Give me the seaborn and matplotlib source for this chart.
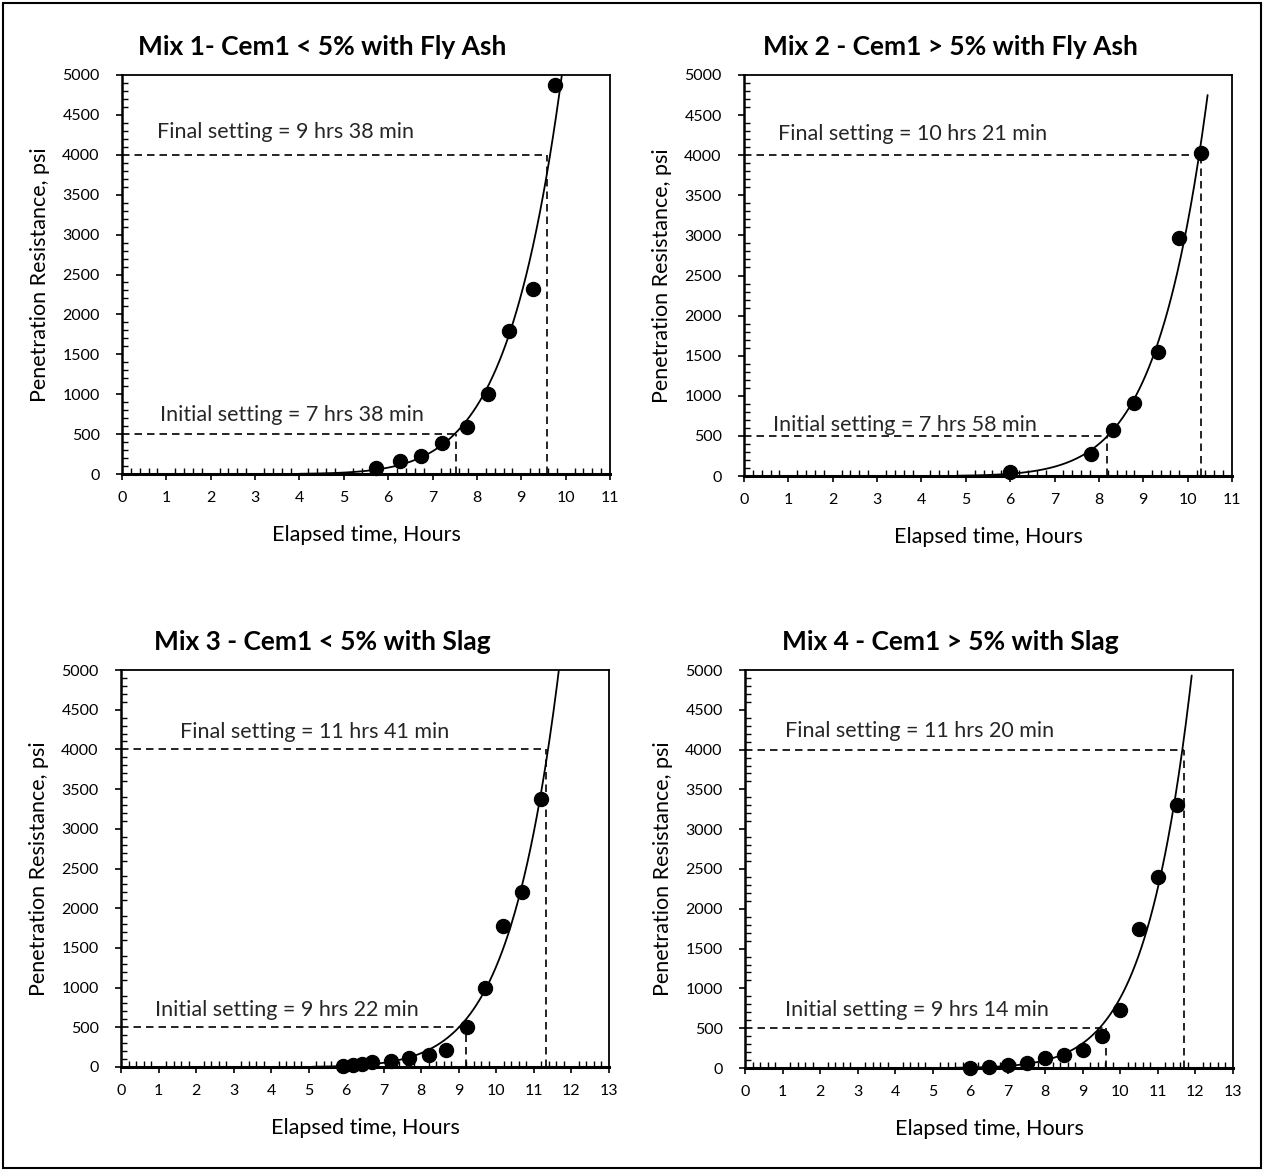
import numpy as np
import pandas as pd
import matplotlib
matplotlib.use("Agg")
import matplotlib.pyplot as plt
from matplotlib.patches import Rectangle
from matplotlib.ticker import MultipleLocator
import seaborn as sns

sns.set_theme(style="white")
plt.rcParams['font.family'] = ['Lato', 'DejaVu Sans']

# ---------------- data ----------------
titles = ["Mix 1- Cem1 < 5% with Fly Ash", "Mix 2 - Cem1 > 5% with Fly Ash",
          "Mix 3 - Cem1 < 5% with Slag", "Mix 4 - Cem1 > 5% with Slag"]

mix1_time = [5.73, 6.26, 6.75, 7.22, 7.77, 8.25, 8.73, 9.27, 9.76]
mix1_psi = [80, 160, 230, 390, 590, 1000, 1790, 2320, 4870]

mix2_time = [6.0, 7.82, 8.31, 8.80, 9.33, 9.81, 10.31]
mix2_psi = [50, 270, 570, 910, 1540, 2970, 4030]

mix3_time = [5.92, 6.19, 6.41, 6.68, 7.19, 7.67, 8.21, 8.67, 9.21, 9.69, 10.17, 10.69, 11.18]
mix3_psi = [8, 30, 35, 60, 80, 110, 150, 220, 500, 1000, 1770, 2200, 3370]

mix4_time = [6.0, 6.5, 7.0, 7.5, 8.0, 8.5, 9.0, 9.5, 10.0, 10.5, 11.0, 11.5]
mix4_psi = [5, 10, 40, 65, 130, 160, 220, 400, 730, 1750, 2400, 3300]

# trendline span (hours) per mix
trend_span = [(4.0, 10.0), (4.8, 10.45), (5.1, 11.8), (5.6, 11.9)]

# setting times read on the axis (hours) and labels
initial_hr = [7.52, 8.19, 9.18, 9.63]
final_hr = [9.57, 10.30, 11.31, 11.69]
initial_txt = ["Initial setting = 7 hrs 38 min", "Initial setting = 7 hrs 58 min",
               "Initial setting = 9 hrs 22 min", "Initial setting = 9 hrs 14 min"]
final_txt = ["Final setting = 9 hrs 38 min", "Final setting = 10 hrs 21 min",
             "Final setting = 11 hrs 41 min", "Final setting = 11 hrs 20 min"]
initial_psi = 500
final_psi = 4000

x_max = [11, 11, 13, 13]
y_max = 5000

# text anchor (hours, psi)
final_txt_pos = [(0.8, 4280), (0.77, 4270), (1.57, 4220), (1.07, 4230)]
initial_txt_pos = [(0.85, 740), (0.65, 640), (0.9, 720), (1.07, 730)]

times = [mix1_time, mix2_time, mix3_time, mix4_time]
psis = [mix1_psi, mix2_psi, mix3_psi, mix4_psi]

# ---------------- figure ----------------
W, H = 1265, 1171
fig = plt.figure(figsize=(W / 100, H / 100), dpi=100)
fig.patch.set_facecolor("white")

# axes boxes in pixels: left, right, top, bottom
boxes = [(122, 610, 75, 474), (744, 1232, 75, 476), (121, 609, 670, 1067), (745, 1233, 670, 1068)]
title_px = [(322, 47), (950, 47), (322, 642), (950, 642)]

for i in range(4):
    l, r, t, b = boxes[i]
    ax = fig.add_axes([l / W, 1 - b / H, (r - l) / W, (b - t) / H])
    df = pd.DataFrame({"Elapsed time, Hours": times[i], "Penetration Resistance, psi": psis[i]})

    # power trendline y = a * t^b, fitted in log-log space (weighted toward larger readings)
    xs = np.asarray(times[i], float)
    ys = np.asarray(psis[i], float)
    bcoef, acoef = np.polyfit(np.log(xs), np.log(ys), 1, w=np.sqrt(ys))
    tx = np.linspace(trend_span[i][0], trend_span[i][1], 400)
    tdf = pd.DataFrame({"t": tx, "p": np.exp(acoef) * tx ** bcoef})
    sns.lineplot(data=tdf, x="t", y="p", ax=ax, color="black", lw=1.3, zorder=3)

    sns.scatterplot(data=df, x="Elapsed time, Hours", y="Penetration Resistance, psi", ax=ax,
                    color="black", s=105, edgecolor="black", zorder=4, clip_on=False)

    # dashed setting lines
    dash = (0, (4.5, 3))
    ax.plot([0, initial_hr[i]], [initial_psi, initial_psi], ls=dash, color="black", lw=1.2, zorder=2)
    ax.plot([initial_hr[i], initial_hr[i]], [0, initial_psi], ls=dash, color="black", lw=1.2, zorder=2)
    ax.plot([0, final_hr[i]], [final_psi, final_psi], ls=dash, color="black", lw=1.2, zorder=2)
    ax.plot([final_hr[i], final_hr[i]], [0, final_psi], ls=dash, color="black", lw=1.2, zorder=2)

    ax.text(final_txt_pos[i][0], final_txt_pos[i][1], final_txt[i], fontsize=15.5, ha="left", va="center")
    ax.text(initial_txt_pos[i][0], initial_txt_pos[i][1], initial_txt[i], fontsize=15.5, ha="left", va="center")

    ax.set_xlim(0, x_max[i])
    ax.set_ylim(0, y_max)
    ax.xaxis.set_major_locator(MultipleLocator(1))
    ax.xaxis.set_minor_locator(MultipleLocator(0.2))
    ax.yaxis.set_major_locator(MultipleLocator(500))
    ax.yaxis.set_minor_locator(MultipleLocator(100))
    ax.tick_params(which="major", direction="out", length=4, width=1.2, color="black",
                   labelsize=11.5, labelcolor="black")
    ax.tick_params(axis="x", which="major", pad=8)
    ax.tick_params(axis="y", which="major", pad=12)
    ax.tick_params(which="minor", direction="in", length=4, width=1.0, color="black")
    ax.tick_params(bottom=True, left=True, which="both")

    ax.set_xlabel("Elapsed time, Hours", fontsize=15.5, color="black")
    ax.set_ylabel("Penetration Resistance, psi", fontsize=15.5, color="black")
    ax.xaxis.set_label_coords(0.5, -0.128)
    ax.yaxis.set_label_coords(-0.148, 0.5)

    for side in ["top", "right", "left"]:
        ax.spines[side].set_color("black")
        ax.spines[side].set_linewidth(1.3)
    ax.spines["bottom"].set_color("black")
    ax.spines["bottom"].set_linewidth(2.2)
    ax.spines["left"].set_linewidth(1.8)
    if ax.get_legend():
        ax.get_legend().remove()

    fig.text(title_px[i][0] / W, 1 - title_px[i][1] / H, titles[i], fontsize=19,
             fontweight="bold", ha="center", va="center", color="black")

fig.add_artist(Rectangle((3 / W, 1 - 1168 / H), (1261 - 3) / W, (1168 - 3) / H,
                         transform=fig.transFigure, fill=False, lw=1.5, edgecolor="black"))

fig.savefig("out.png", dpi=100, facecolor="white")
